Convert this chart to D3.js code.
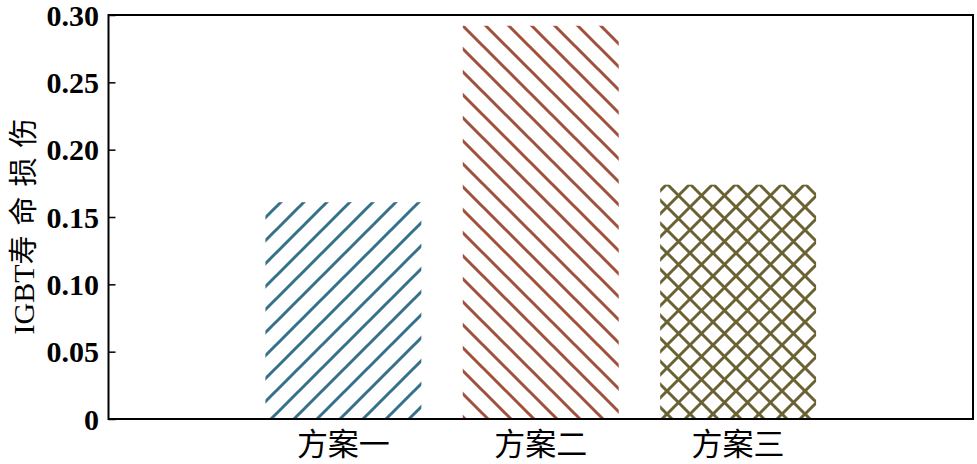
<!DOCTYPE html>
<html>
<head>
<meta charset="utf-8">
<script src="https://cdn.jsdelivr.net/npm/d3@7/dist/d3.min.js"></script>
<style>
  html, body { margin: 0; padding: 0; background: #fff; }
  svg { display: block; }
</style>
</head>
<body>
<svg id="chart" width="977" height="464"></svg>
<script>
const categories = ["方案一", "方案二", "方案三"];
const values = [0.161, 0.292, 0.174];
const yTicks = [0, 0.05, 0.10, 0.15, 0.20, 0.25, 0.30];
const yTickLabels = ["0", "0.05", "0.10", "0.15", "0.20", "0.25", "0.30"];
const yLabelLatin = "IGBT";
const yLabelCJK = "寿命损伤";

const svg = d3.select("#chart");
const mLeft = 108.5, mRight = 973, mTop = 15, mBottom = 419;

const x = d3.scaleBand().domain(categories).range([mLeft, mRight])
  .paddingInner(0.21).paddingOuter(0.795);
const y = d3.scaleLinear().domain([0, 0.30]).range([mBottom, mTop]);

// patterns
const defs = svg.append("defs");
const s = 23;
function hatch(id, color, kind) {
  const p = defs.append("pattern").attr("id", id)
    .attr("patternUnits", "userSpaceOnUse")
    .attr("width", s).attr("height", s);
  const up = `M0,${s} L${s},0 M${-s/4},${s/4} L${s/4},${-s/4} M${3*s/4},${5*s/4} L${5*s/4},${3*s/4}`;
  const down = `M0,0 L${s},${s} M${-s/4},${3*s/4} L${s/4},${5*s/4} M${3*s/4},${-s/4} L${5*s/4},${s/4}`;
  const d = kind === "up" ? up : kind === "down" ? down : up + " " + down;
  p.append("path").attr("d", d).attr("stroke", color)
    .attr("stroke-width", 3).attr("fill", "none");
}
hatch("p0", "#35718c", "up");
hatch("p1", "#a0503b", "down");
hatch("p2", "#6b6233", "cross");

// bars
svg.append("g").selectAll("rect").data(categories).join("rect")
  .attr("x", d => x(d))
  .attr("width", x.bandwidth())
  .attr("y", (d, i) => y(values[i]))
  .attr("height", (d, i) => y(0) - y(values[i]))
  .attr("fill", (d, i) => `url(#p${i})`);

// frame
svg.append("rect").attr("x", mLeft).attr("y", mTop)
  .attr("width", mRight - mLeft).attr("height", mBottom - mTop)
  .attr("fill", "none").attr("stroke", "#000").attr("stroke-width", 2);

// y axis ticks (inward)
const yAxis = d3.axisRight(y).tickValues(yTicks)
  .tickFormat(() => "").tickSizeInner(7).tickSizeOuter(0);
const gy = svg.append("g").attr("transform", `translate(${mLeft},0)`).call(yAxis);
gy.select(".domain").remove();
gy.selectAll(".tick line").attr("stroke", "#000").attr("stroke-width", 1.5);

// y tick labels
svg.append("g").selectAll("text").data(yTicks).join("text")
  .attr("x", 99)
  .attr("y", d => y(d))
  .attr("dy", "0.35em")
  .attr("text-anchor", "end")
  .attr("font-family", "'Liberation Serif', 'Times New Roman', serif")
  .attr("font-weight", "bold")
  .attr("font-size", 30)
  .text((d, i) => yTickLabels[i]);

// x labels
svg.append("g").selectAll("text").data(categories).join("text")
  .attr("x", d => x(d) + x.bandwidth() / 2)
  .attr("y", 455)
  .attr("text-anchor", "middle")
  .attr("font-family", "'Noto Sans CJK SC', sans-serif")
  .attr("font-size", 31)
  .text(d => d);

// y label
const yl = svg.append("text")
  .attr("transform", "translate(34,221.5) rotate(-90)")
  .attr("text-anchor", "middle");
yl.append("tspan")
  .attr("font-family", "'Liberation Serif', 'Times New Roman', serif")
  .attr("font-size", 30)
  .text(yLabelLatin);
yl.append("tspan")
  .attr("font-family", "'Noto Sans CJK SC', sans-serif")
  .attr("font-size", 29)
  .attr("letter-spacing", 10)
  .text(yLabelCJK);
</script>
</body>
</html>
